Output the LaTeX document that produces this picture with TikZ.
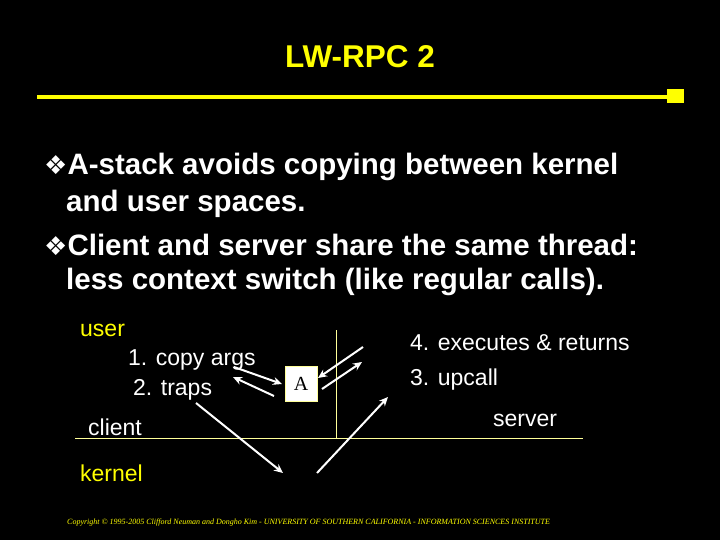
\documentclass[tikz,border=0pt]{standalone}
\usepackage{fontspec}
\setmainfont{Liberation Sans}
\newfontfamily\dv{DejaVu Sans}
\newfontfamily\serifit{Liberation Serif}
\usetikzlibrary{arrows.meta}
\definecolor{ylw}{RGB}{255,255,0}
\definecolor{lyl}{RGB}{255,255,153}
\begin{document}
\begin{tikzpicture}[x=1pt,y=-1pt,
  bul/.style={anchor=west,text=white,font=\bfseries\fontsize{29.5}{32}\selectfont,inner sep=0pt},
  lbl/.style={anchor=west,text=white,font=\fontsize{23}{26}\selectfont,inner sep=0pt},
  ylbl/.style={lbl,text=ylw},
  arr/.style={draw=white,line width=2pt,-{Stealth[length=9pt,width=8pt]}}]
\fill[black] (0,0) rectangle (720,540);
\useasboundingbox (0,0) rectangle (720,540);
\node[text=ylw,font=\bfseries\fontsize{31.5}{34}\selectfont] (title) at (360,57) {LW-RPC 2};
\draw[ylw,line width=4pt] (37,97) coordinate (r0) -- (667,97) coordinate (r1);
\fill[ylw] (667,89) rectangle (684,103);
\node[bul] (b1) at (44,167) {{\dv\fontsize{26}{28}\selectfont\char"2756}A-stack avoids copying between kernel};
\node[bul] (b2) at (66,204) {and user spaces.};
\node[bul] (b3) at (44,245) {{\dv\fontsize{26}{28}\selectfont\char"2756}Client and server share the same thread:};
\node[bul] (b4) at (66,282) {less context switch (like regular calls).};
\node[ylbl] (user) at (80,330) {user};
\node[lbl] (copy) at (128,360) {1. copy args};
\node[lbl] (traps) at (133,390) {2. traps};
\node[lbl] (client) at (88,427) {client};
\node[ylbl] (kernel) at (80,473) {kernel};
\node[lbl] (exec) at (410,343) {4. executes \& returns};
\node[lbl] (upcall) at (410,380) {3. upcall};
\node[lbl] (server) at (493,420) {server};
\draw[lyl,line width=0.8pt] (336,330) coordinate (v0) -- (336,438) coordinate (v1);
\draw[lyl,line width=0.8pt] (75,438) coordinate (h0) -- (583,438) coordinate (h1);
\node[draw=lyl,fill=white,line width=1pt,minimum width=32pt,minimum height=35pt,inner sep=0pt,font=\serifit\fontsize{20}{24}\selectfont] (A) at (301,384) {A};
\coordinate (k1) at (283,473);
\coordinate (k2) at (317,473);
\draw[arr] (234,367) -- (282,384);
\draw[arr] (274,396) -- (233,377);
\draw[arr] (196,403) -- (k1);
\draw[arr] (k2) -- (388,397);
\draw[arr] (322,389) -- (362,362);
\draw[arr] (363,347) -- (318,378);
\node[anchor=west,text=ylw,inner sep=0pt,font=\serifit\itshape\fontsize{8}{10}\selectfont] (copyr) at (67,523) {Copyright © 1995-2005 Clifford Neuman and Dongho Kim - UNIVERSITY OF SOUTHERN CALIFORNIA - INFORMATION SCIENCES INSTITUTE};
\end{tikzpicture}
\end{document}
